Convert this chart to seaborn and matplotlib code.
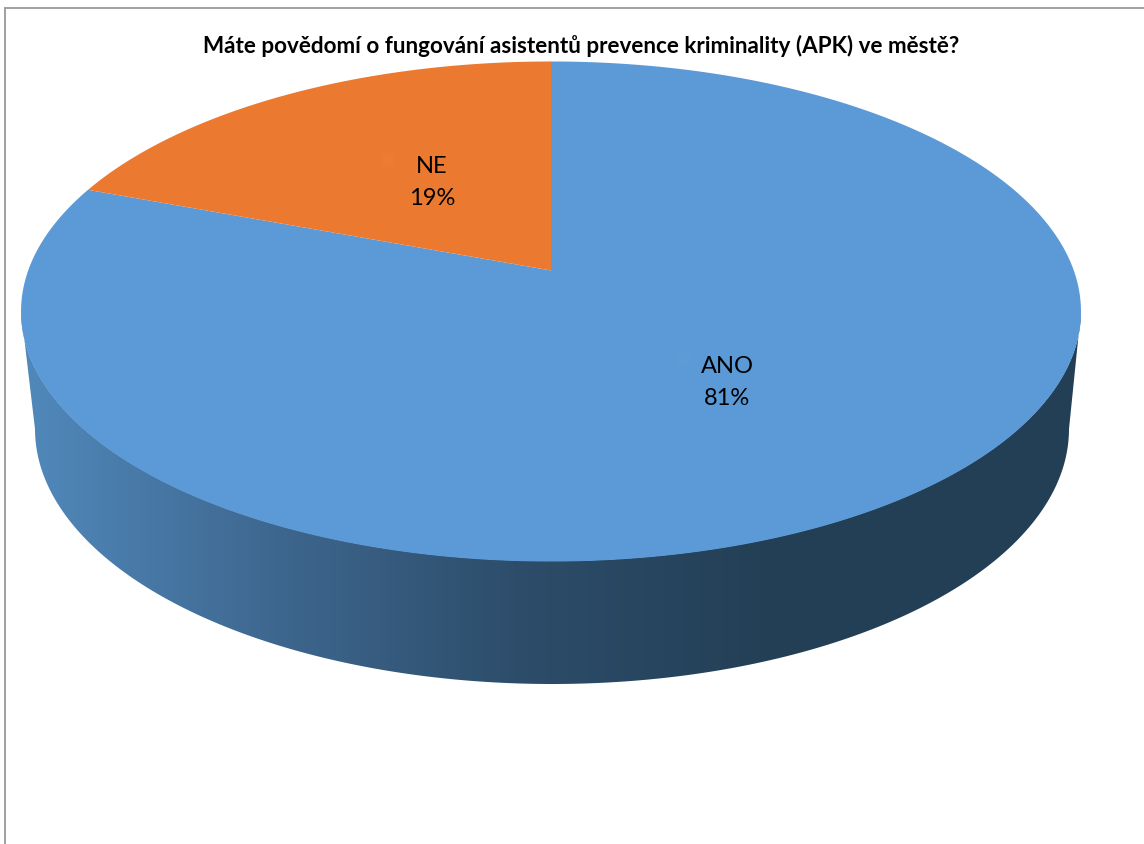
import numpy as np
import matplotlib
matplotlib.use('Agg')
import matplotlib.pyplot as plt
import matplotlib.transforms as mtransforms
from matplotlib.patches import Polygon
from matplotlib.path import Path
import seaborn as sns

# Chart data
title = 'Máte povědomí o fungování asistentů prevence kriminality (APK) ve městě?'
labels = ['ANO', 'NE']
shares = [80.7, 19.3]
colors = ['#5b9ad6', '#eb7a30']
key_colors = ['#5c9bd6', '#ec7c31']

W, H = 1144, 845

sns.set_theme(style='white')
plt.rcParams['font.family'] = ['Lato', 'DejaVu Sans']


class TiltedDisc(mtransforms.Transform):
    """Maps the unit circle of the pie onto the tilted disc, in pixels."""
    input_dims = 2
    output_dims = 2

    def __init__(self, cx=551, cy=271.5, a=522.8, b=243.3, k=0.164):
        super().__init__()
        self.cx, self.cy, self.a, self.b, self.k = cx, cy, a, b, k

    def transform_non_affine(self, values):
        u, v = values[:, 0], values[:, 1]
        d = 1 + self.k * v
        return np.column_stack([self.cx + self.a * u / d, self.cy - self.b * v / d])

    def transform_path_non_affine(self, path):
        # flatten the bezier arcs first so the rim stays smooth
        t = np.linspace(0, 1, 40)
        pts = np.vstack([seg(t) for seg, _ in path.iter_bezier()])
        return Path(self.transform_non_affine(pts))


fig = plt.figure(figsize=(W / 100, H / 100), dpi=100, facecolor='white')
ax = fig.add_axes([0, 0, 1, 1])

wedges, _ = ax.pie(shares, colors=colors, startangle=90, counterclock=False,
                   wedgeprops={'linewidth': 0})
disc = TiltedDisc()
for w in wedges:
    w.set_transform(disc + ax.transData)
    w.set_zorder(3)

# side wall of the 3D pie, dark to the right
theta = np.linspace(0, np.pi, 240)
rim = np.column_stack([551 + 530 * np.cos(theta), 312 + 250 * np.sin(theta)])
foot = np.column_stack([552 + 517 * np.cos(theta), 430 + 255 * np.sin(theta)])[::-1]
wall = Polygon(np.vstack([rim, foot]), closed=True, facecolor='none', edgecolor='none',
               transform=ax.transData)
ax.add_patch(wall)
cmap = sns.blend_palette(['#5189bc', '#3e678f', '#2c4c69', '#233f55'], as_cmap=True)
ramp = np.clip((np.arange(W) - 21) / 760, 0, 1)[None, :]
img = ax.imshow(ramp, cmap=cmap, extent=(0, W, 700, 300), aspect='auto', zorder=2)
img.set_clip_path(wall)

ax.set_aspect('auto')
ax.set_xlim(0, W)
ax.set_ylim(H, 0)
ax.axis('off')

# chart area border, cropped at the right and the bottom
ax.plot([5, 5, W], [H, 9, 9], color='#a0a0a0', lw=1.4, zorder=1, solid_joinstyle='miter')

ax.text(581, 46, title, ha='center', va='center', fontsize=16.2, fontweight='bold',
        color='black', zorder=5)

label_pos = [(727, 382.5), (432, 182.5)]
key_pos = [(683, 360), (388, 161)]
for name, share, xy, key, kc in zip(labels, shares, label_pos, key_pos, key_colors):
    ax.scatter(*key, marker='s', s=100, color=kc, linewidths=0, zorder=4)
    ax.text(xy[0], xy[1], f'{name}\n{share:.0f}%', ha='center', va='center', fontsize=17,
            linespacing=1.6, color='black', zorder=5)

fig.savefig('out.png', dpi=100)
